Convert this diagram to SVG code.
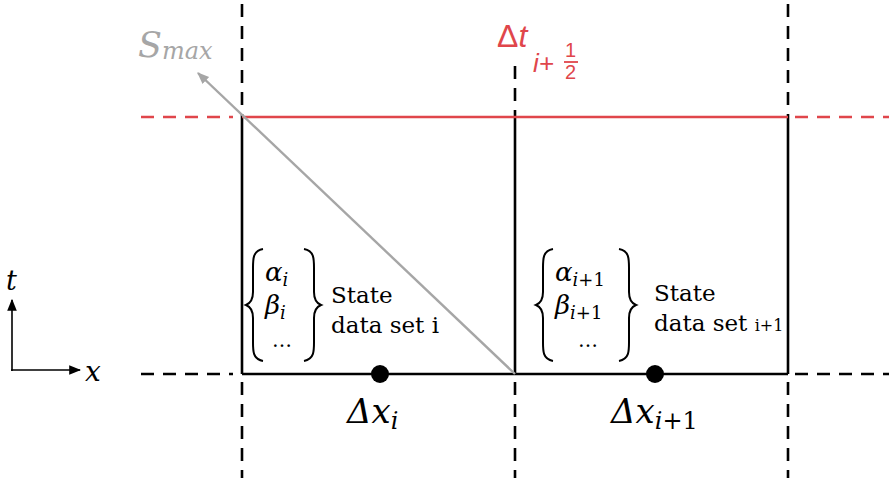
<svg xmlns="http://www.w3.org/2000/svg" width="889" height="478" viewBox="0 0 889 478">
<defs>
<style>
.sol{stroke:#000;stroke-width:2.6;fill:none}
.dash{stroke:#000;stroke-width:2.6;fill:none;stroke-dasharray:13 9}
.rsol{stroke:#e0464b;stroke-width:2.6;fill:none}
.rdash{stroke:#e0464b;stroke-width:2.6;fill:none;stroke-dasharray:13 9}
.m{font-family:"DejaVu Serif","Liberation Serif",serif;font-style:italic;fill:#000}
.t{font-family:"DejaVu Serif","Liberation Serif",serif;fill:#000}
.brace{stroke:#000;stroke-width:2;fill:none}
.rt{font-family:"Liberation Sans",Arial,sans-serif;fill:#e0464b}
</style>
<marker id="ga" viewBox="0 0 10 10" refX="9" refY="5" markerWidth="12" markerHeight="12" orient="auto" markerUnits="userSpaceOnUse">
<path d="M0,1 L10,5 L0,9 z" fill="#a6a6a6"/>
</marker>
<marker id="ka" viewBox="0 0 10 10" refX="9" refY="5" markerWidth="12" markerHeight="12" orient="auto" markerUnits="userSpaceOnUse">
<path d="M0,1 L10,5 L0,9 z" fill="#000"/>
</marker>
</defs>

<g id="connectors">
<line class="dash" x1="242" y1="4" x2="242" y2="117"/>
<line class="sol" x1="242" y1="117" x2="242" y2="374"/>
<line class="dash" x1="242" y1="382" x2="242" y2="478"/>
<line class="dash" x1="515" y1="66" x2="515" y2="117"/>
<line class="sol" x1="515" y1="117" x2="515" y2="374"/>
<line class="dash" x1="515" y1="382" x2="515" y2="478"/>
<line class="dash" x1="788" y1="4" x2="788" y2="117"/>
<line class="sol" x1="788" y1="117" x2="788" y2="374"/>
<line class="dash" x1="788" y1="382" x2="788" y2="478"/>
<line class="rdash" x1="141" y1="117" x2="233" y2="117"/>
<line class="rsol" x1="242" y1="117" x2="788" y2="117"/>
<line class="rdash" x1="795" y1="117" x2="889" y2="117"/>
<line class="dash" x1="141" y1="374" x2="233" y2="374"/>
<line class="sol" x1="242" y1="374" x2="788" y2="374"/>
<line class="dash" x1="795" y1="374" x2="889" y2="374"/>
<line x1="515" y1="374" x2="198" y2="73" stroke="#a6a6a6" stroke-width="2.4" marker-end="url(#ga)"/>
<line x1="12" y1="371" x2="12" y2="300" stroke="#000" stroke-width="1.6" marker-end="url(#ka)"/>
<line x1="11" y1="370" x2="80" y2="370" stroke="#000" stroke-width="1.6" marker-end="url(#ka)"/>
</g>

<g id="axis-labels">
<text class="m" x="6" y="290" font-size="27">t</text>
<text class="m" x="85" y="381" font-size="28">x</text>
</g>

<g id="smax">
<text x="138" y="57" font-family="DejaVu Serif,Liberation Serif,serif" font-style="italic" fill="#a6a6a6" font-size="35">S<tspan font-size="24" dy="2">max</tspan></text>
</g>

<g id="dt">
<text class="rt" x="497" y="47" font-size="32">Δ<tspan font-style="italic">t</tspan></text>
<text class="rt" x="533" y="72" font-style="italic" font-size="26">i+</text>
<text class="rt" x="565" y="57" font-size="20">1</text>
<line x1="564" y1="62" x2="578" y2="62" stroke="#e0464b" stroke-width="1.8"/>
<text class="rt" x="565" y="79" font-size="20">2</text>
</g>

<g id="cell-i">
<path class="brace" d="M263,249 C252,251 253,260 253,272 L253,292 C253,299 251,303 246,305 C251,307 253,311 253,318 L253,338 C253,350 252,359 263,361"/>
<path class="brace" d="M304,249 C315,251 314,260 314,272 L314,292 C314,299 316,303 321,305 C316,307 314,311 314,318 L314,338 C314,350 315,359 304,361"/>
<text class="m" x="265" y="281" font-size="26">α<tspan font-size="18" dy="5">i</tspan></text>
<text class="m" x="265" y="314" font-size="26">β<tspan font-size="18" dy="5">i</tspan></text>
<text class="t" x="272" y="347" font-size="20">…</text>
<text class="t" x="331" y="303" font-size="23">State</text>
<text class="t" x="331" y="333" font-size="23">data set i</text>
<circle cx="380" cy="374" r="9" fill="#000"/>
<text class="m" x="347" y="423" font-size="34">Δx<tspan font-size="24" dy="6">i</tspan></text>
</g>

<g id="cell-i1">
<path class="brace" d="M553,249 C542,251 543,260 543,272 L543,292 C543,299 541,303 536,305 C541,307 543,311 543,318 L543,338 C543,350 542,359 553,361"/>
<path class="brace" d="M619,249 C630,251 629,260 629,272 L629,292 C629,299 631,303 636,305 C631,307 629,311 629,318 L629,338 C629,350 630,359 619,361"/>
<text class="m" x="555" y="281" font-size="26">α<tspan font-size="18" dy="5">i<tspan font-style="normal">+1</tspan></tspan></text>
<text class="m" x="555" y="314" font-size="26">β<tspan font-size="18" dy="5">i<tspan font-style="normal">+1</tspan></tspan></text>
<text class="t" x="578" y="347" font-size="20">…</text>
<text class="t" x="654" y="301" font-size="23">State</text>
<text class="t" x="654" y="331" font-size="23">data set <tspan font-size="16">i+1</tspan></text>
<circle cx="655" cy="374" r="9" fill="#000"/>
<text class="m" x="611" y="423" font-size="34">Δx<tspan font-size="24" dy="6">i<tspan font-style="normal">+1</tspan></tspan></text>
</g>
</svg>
